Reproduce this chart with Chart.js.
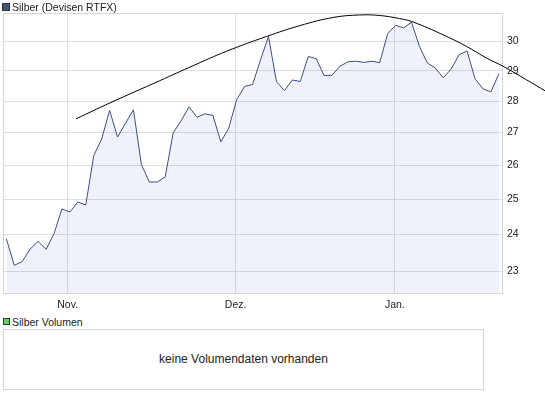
<!DOCTYPE html>
<html>
<head>
<meta charset="utf-8">
<script src="https://cdn.jsdelivr.net/npm/chart.js@4.4.1/dist/chart.umd.min.js"></script>
<style>
  body { margin: 0; background: #fff; font-family: "Liberation Sans", Arial, sans-serif; color: #222; }
  #wrap { position: relative; width: 545px; height: 398px; overflow: hidden; }
  #kurs { position: absolute; left: 0; top: 0; }
  .box { position: absolute; box-sizing: border-box; border: 1px solid #333; }
  .leg { position: absolute; font-size: 10.5px; line-height: 12px; white-space: nowrap; }
  #volumen { position: absolute; left: 3px; top: 329px; width: 481px; height: 61px; box-sizing: border-box;
             border: 1px solid #d6d6d6; font-size: 12px; line-height: 59px; text-align: center; }
</style>
</head>
<body>
<div id="wrap">
  <canvas id="kurs" width="545" height="315"></canvas>
  <div class="box" style="left:2px;top:3px;width:8px;height:8px;background:#3f5384"></div>
  <div class="leg" style="left:12px;top:1px">Silber (Devisen RTFX)</div>
  <div class="box" style="left:3px;top:318px;width:7px;height:7px;background:#66cc66"></div>
  <div class="leg" style="left:12px;top:316px">Silber Volumen</div>
  <div id="volumen">keine Volumendaten vorhanden</div>
</div>
<script>
/* ===== DATEN ===== */
const silber = [
  23.88, 23.16, 23.26, 23.60, 23.81, 23.59, 24.02, 24.72, 24.63, 24.92,
  24.83, 26.29, 26.80, 27.70, 26.86, 27.29, 27.72, 26.02, 25.50, 25.50,
  25.65, 26.99, 27.37, 27.81, 27.48, 27.59, 27.54, 26.71, 27.14, 28.05,
  28.48, 28.54, 29.37, 30.17, 28.64, 28.34, 28.69, 28.64, 29.48, 29.41,
  28.84, 28.85, 29.15, 29.30, 29.32, 29.28, 29.32, 29.27, 30.27, 30.56,
  30.47, 30.67, 29.83, 29.26, 29.09, 28.76, 29.06, 29.54, 29.67, 28.73,
  28.40, 28.30, 28.90
];

// Trendkurve (x = Handelstag-Index)
const trendX = [8.77, 13.04, 19.33, 23.52, 27.72, 32.75, 36.94, 41.13, 44.49, 47.01, 49.52, 51.2, 54.97, 57.91, 60.43, 62.52, 65.46, 67.9];
const trendY = [27.43, 27.94, 28.67, 29.17, 29.66, 30.17, 30.55, 30.84, 30.93, 30.91, 30.80, 30.68, 30.23, 29.83, 29.43, 29.15, 28.70, 28.32];

const monate = ["Nov.", "Dez.", "Jan."];
const monatPos = [7.72, 28.86, 48.9];
const yTicks = [23, 24, 25, 26, 27, 28, 29, 30];

/* ===== RAHMEN ===== */
const rahmen = {
  id: "rahmen",
  beforeDatasetsDraw(chart) {
    const a = chart.chartArea;
    const c = chart.ctx;
    c.save();
    c.strokeStyle = "#d6d6d6";
    c.lineWidth = 1;
    c.strokeRect(a.left + 0.5, a.top + 0.5, a.right - a.left - 1, a.bottom - a.top);
    c.restore();
  }
};

const schrift = { family: "'Liberation Sans', Arial, sans-serif", size: 10.5 };

/* ===== GRAFIK ===== */
new Chart(document.getElementById("kurs"), {
  type: "line",
  data: {
    datasets: [
      {
        label: "Trend",
        data: trendX.map((x, i) => ({ x: x, y: trendY[i] })),
        borderColor: "#000",
        borderWidth: 1,
        pointRadius: 0,
        fill: false,
        tension: 0.4,
        clip: false
      },
      {
        label: "Silber (Devisen RTFX)",
        data: silber.map((v, i) => ({ x: i, y: v })),
        borderColor: "#3b4f7f",
        borderWidth: 1,
        pointRadius: 0,
        fill: "start",
        backgroundColor: "rgba(60,90,200,0.08)",
        tension: 0
      }
    ]
  },
  options: {
    responsive: false,
    animation: false,
    devicePixelRatio: 1,
    layout: { padding: { left: 3, top: 13, right: 0, bottom: 0 } },
    plugins: { legend: { display: false }, tooltip: { enabled: false } },
    scales: {
      x: {
        type: "linear",
        bounds: "data",
        grid: { color: "#dedede", drawTicks: false },
        border: { display: false },
        // Grenzen hier setzen, damit die Trendkurve über den Rand hinaus gezeichnet wird
        afterDataLimits: s => { s.min = -0.42; s.max = 62.52; },
        afterBuildTicks: s => { s.ticks = monatPos.map(v => ({ value: v })); },
        afterFit: s => { s.height = 22; },
        ticks: {
          padding: 6,
          color: "#222",
          font: schrift,
          autoSkip: false,
          maxRotation: 0,
          callback: (v, i) => monate[i]
        }
      },
      y: {
        type: "logarithmic",
        position: "right",
        bounds: "data",
        grid: { color: "#dedede", drawTicks: false },
        border: { display: false },
        afterDataLimits: s => { s.min = 22.43; s.max = 31.0; },
        afterBuildTicks: s => { s.ticks = yTicks.map(v => ({ value: v })); },
        afterFit: s => { s.width = 42; },
        ticks: {
          padding: 4,
          color: "#222",
          font: schrift,
          callback: v => String(v)
        }
      }
    }
  },
  plugins: [rahmen]
});
</script>
</body>
</html>
